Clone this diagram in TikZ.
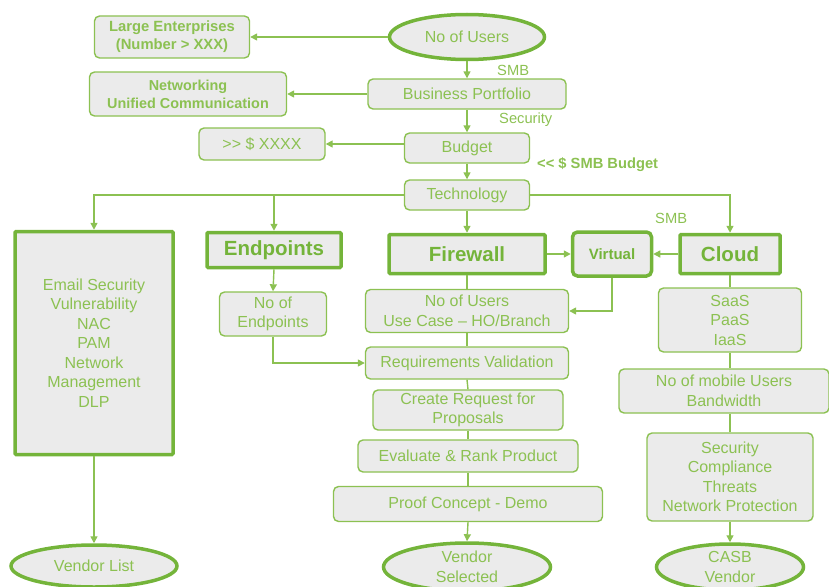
\documentclass[tikz,border=0pt]{standalone}
\usepackage{fontspec}
\setmainfont{Liberation Sans}
\usetikzlibrary{shapes.geometric,arrows.meta}
\definecolor{gtxt}{HTML}{8CC152}
\definecolor{gdark}{HTML}{74B43A}
\definecolor{gline}{HTML}{8CC152}
\definecolor{gfill}{HTML}{EBEBEB}
\tikzset{
  box/.style={draw=gline, line width=1.4pt, fill=gfill, rounded corners=5pt, text=gtxt,
    align=center, inner sep=0pt, font=\fontsize{16}{19.5}\selectfont},
  bigbox/.style={draw=gdark, line width=3.5pt, fill=gfill, rounded corners=1pt, text=gdark,
    align=center, inner sep=0pt, font=\fontsize{20.5}{24}\selectfont\bfseries},
  oval/.style={ellipse, draw=gdark, line width=3.5pt, fill=gfill, text=gtxt,
    align=center, inner sep=0pt, font=\fontsize{16}{19.5}\selectfont},
  lbl/.style={text=gtxt, inner sep=0pt, anchor=west, font=\fontsize{14.7}{18}\selectfont},
  conn/.style={draw=gline, line width=1.4pt},
  arr/.style={conn, -{Triangle[length=7pt,width=7pt]}},
}
\begin{document}
\begin{tikzpicture}[x=1pt,y=-1pt]
\useasboundingbox (0,0) rectangle (829,586);
% top chain
\node[oval, minimum width=155pt, minimum height=45pt] (users) at (467,37) {No of Users};
\node[box, minimum width=155pt, minimum height=42pt, font=\fontsize{14.8}{18}\selectfont\bfseries] (large) at (172,37) {Large Enterprises\\(Number > XXX)};
\node[box, minimum width=198pt, minimum height=30pt] (bp) at (467,94) {Business Portfolio};
\node[box, minimum width=197pt, minimum height=44pt, font=\fontsize{14.4}{18}\selectfont\bfseries] (net) at (188,94) {Networking\\Unified Communication};
\node[box, minimum width=125pt, minimum height=30pt] (budget) at (467,148) {Budget};
\node[box, minimum width=126pt, minimum height=32pt] (xxxx) at (262,144) {>{}> \$ XXXX};
\node[box, minimum width=125pt, minimum height=30pt] (tech) at (467,195) {Technology};
% labels
\node[lbl] (l1) at (497,70) {SMB};
\node[lbl] (l2) at (499,120) {Security};
\node[lbl, font=\fontsize{14.7}{18}\selectfont\bfseries] (l3) at (537,165) {<{}< \$ SMB Budget};
\node[lbl] (l4) at (655,218) {SMB};
% second level
\node[bigbox, minimum width=158pt, minimum height=223pt, font=\fontsize{16}{19.5}\selectfont, text=gtxt] (left) at (94,343) {Email Security\\Vulnerability\\NAC\\PAM\\Network\\Management\\DLP};
\node[bigbox, minimum width=134pt, minimum height=35pt] (endp) at (274,250) {Endpoints};
\node[bigbox, minimum width=156pt, minimum height=39pt] (fw) at (467,254) {Firewall};
\node[bigbox, minimum width=79pt, minimum height=44pt, rounded corners=5pt, font=\fontsize{15}{18}\selectfont\bfseries] (virt) at (612,254) {Virtual};
\node[bigbox, minimum width=100pt, minimum height=39pt] (cloud) at (730,254) {Cloud};
% endpoints column
\node[box, minimum width=107pt, minimum height=44pt] (noend) at (273,314) {No of\\Endpoints};
% firewall column
\node[box, minimum width=203pt, minimum height=43pt] (nou) at (467,311) {No of Users\\Use Case -- HO/Branch};
\node[box, minimum width=203pt, minimum height=32pt] (req) at (467,363) {Requirements Validation};
\node[box, minimum width=190pt, minimum height=40pt] (crp) at (468,410) {Create Request for\\Proposals};
\node[box, minimum width=220pt, minimum height=32pt] (eval) at (468,456) {Evaluate \& Rank Product};
\node[box, minimum width=269pt, minimum height=35pt] (poc) at (468,504) {Proof Concept - Demo};
\node[oval, minimum width=167pt, minimum height=48pt] (vsel) at (467,567) {Vendor\\Selected};
\node[oval, minimum width=166pt, minimum height=42pt] (vlist) at (94,566) {Vendor List};
% cloud column
\node[box, minimum width=143pt, minimum height=64pt] (saas) at (730,320) {SaaS\\PaaS\\IaaS};
\node[box, minimum width=210pt, minimum height=44pt] (mob) at (724,391) {No of mobile Users\\Bandwidth};
\node[box, minimum width=166pt, minimum height=88pt] (sec) at (730,477) {Security\\Compliance\\Threats\\Network Protection};
\node[oval, minimum width=147pt, minimum height=46pt] (casb) at (730,567) {CASB\\Vendor};
% coordinates
\coordinate (tl) at (94,195);
\coordinate (te) at (274,195);
\coordinate (tr) at (730,195);
\coordinate (ne) at (273,363);
\coordinate (vd) at (612,311);
% connectors
\draw[arr] (users.west) -- (large.east);
\draw[arr] (users.south) -- (bp.north);
\draw[arr] (bp.west) -- (net.east);
\draw[arr] (bp.south) -- (budget.north);
\draw[arr] (budget.west |- xxxx.east) -- (xxxx.east);
\draw[arr] (budget.south) -- (tech.north);
\draw[arr] (tech.west) -- (tl) -- (left.north);
\draw[arr] (te) -- (endp.north);
\draw[arr] (tech.south) -- (fw.north);
\draw[arr] (tech.east) -- (tr) -- (cloud.north);
\draw[arr] (endp.south) -- (noend.north);
\draw[arr] (noend.south) -- (ne) -- (req.west);
\draw[arr] (fw.east) -- (virt.west);
\draw[arr] (cloud.west) -- (virt.east);
\draw[arr] (virt.south) -- (vd) -- (nou.east);
\draw[conn] (fw.south) -- (nou.north);
\draw[conn] (nou.south) -- (req.north);
\draw[conn] (req.south) -- (crp.north);
\draw[conn] (crp.south) -- (eval.north);
\draw[conn] (eval.south) -- (poc.north);
\draw[arr] (poc.south) -- (vsel.north);
\draw[arr] (left.south) -- (vlist.north);
\draw[conn] (cloud.south) -- (saas.north);
\draw[conn] (saas.south) -- (saas.south |- mob.north);
\draw[conn] (saas.south |- mob.south) -- (sec.north);
\draw[arr] (sec.south) -- (casb.north);
\end{tikzpicture}
\end{document}
